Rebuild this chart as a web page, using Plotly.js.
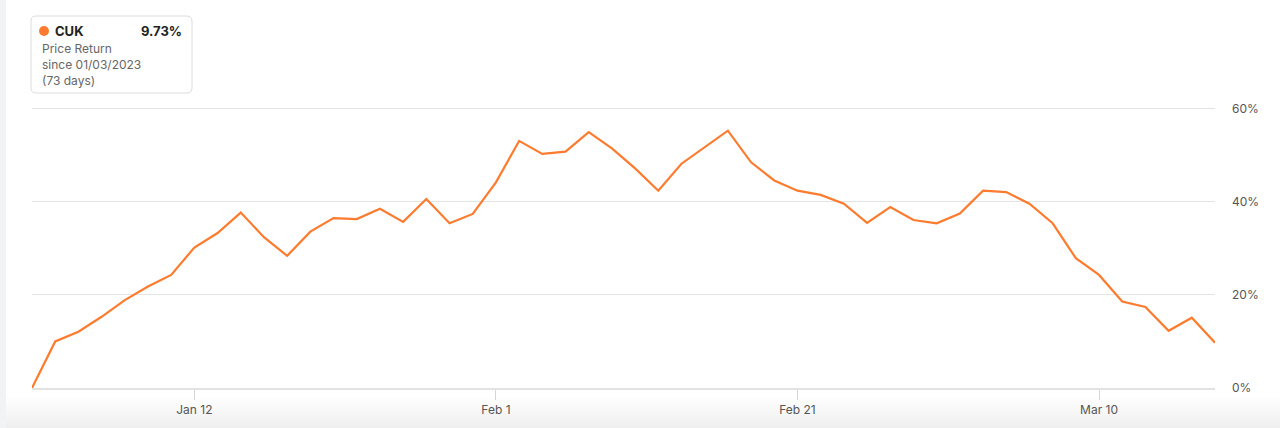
<!DOCTYPE html>
<html>
<head>
<meta charset="utf-8">
<script src="https://cdn.plot.ly/plotly-3.0.1.min.js"></script>
<style>
  html, body { margin:0; padding:0; width:1280px; height:428px; overflow:hidden; }
  body { background: linear-gradient(to bottom, #ffffff 0px, #ffffff 395px, #efefef 428px); position:relative; }
  #strip { position:absolute; left:0; top:0; width:6px; height:428px; background:#f2f3f7; }
  #chart { position:absolute; left:0; top:0; width:1280px; height:428px; }
</style>
</head>
<body>
<div id="strip"></div>
<div id="chart"></div>
<script>
// ---- data ----
const dates = [
  "2023-01-03","2023-01-04","2023-01-05","2023-01-06","2023-01-09","2023-01-10","2023-01-11","2023-01-12","2023-01-13",
  "2023-01-17","2023-01-18","2023-01-19","2023-01-20","2023-01-23","2023-01-24","2023-01-25","2023-01-26","2023-01-27",
  "2023-01-30","2023-01-31","2023-02-01","2023-02-02","2023-02-03","2023-02-06","2023-02-07","2023-02-08","2023-02-09",
  "2023-02-10","2023-02-13","2023-02-14","2023-02-15","2023-02-16","2023-02-17","2023-02-21","2023-02-22","2023-02-23",
  "2023-02-24","2023-02-27","2023-02-28","2023-03-01","2023-03-02","2023-03-03","2023-03-06","2023-03-07","2023-03-08",
  "2023-03-09","2023-03-10","2023-03-13","2023-03-14","2023-03-15","2023-03-16","2023-03-17"
];
const priceReturn = [
  0, 10.0, 12.1, 15.3, 18.9, 21.8, 24.3, 30.2, 33.3,
  37.7, 32.4, 28.4, 33.6, 36.5, 36.3, 38.5, 35.7, 40.6,
  35.4, 37.4, 44.2, 53.1, 50.3, 50.8, 55.0, 51.5, 47.2,
  42.4, 48.2, 51.7, 55.3, 48.5, 44.6, 42.4, 41.5, 39.6,
  35.5, 38.9, 36.1, 35.4, 37.5, 42.4, 42.1, 39.6, 35.4,
  27.9, 24.3, 18.6, 17.4, 12.3, 15.1, 9.73
];
const xTickVals = ["2023-01-12","2023-02-01","2023-02-21","2023-03-10"];
const xTickText = ["Jan 12","Feb 1","Feb 21","Mar 10"];
const yTickVals = [0, 20, 40, 60];
const yTickText = ["0%", "20%", "40%", "60%"];
const seriesName = "CUK";
const lastValueText = "9.73%";
const subtitle = "Price Return";
const sinceText = "since 01/03/2023";
const daysText = "(73 days)";

// ---- layout helpers (pixel -> paper) ----
const W = 1280, H = 428;
const M = { l: 32, r: 65, t: 106, b: 40 };
const PW = W - M.l - M.r, PH = H - M.t - M.b;
const px = x => (x - M.l) / PW;
const py = y => (H - M.b - y) / PH;

const orange = "#fd7b2e";
const font = "Inter, 'Liberation Sans', Arial, sans-serif";

// rounded legend box
const bx0 = 31, bx1 = 192, by0 = 16, by1 = 93, r = 5;
function roundRectPath(x0, y0, x1, y1, rr) {
  return `M ${px(x0+rr)},${py(y0)} L ${px(x1-rr)},${py(y0)} Q ${px(x1)},${py(y0)} ${px(x1)},${py(y0+rr)} ` +
         `L ${px(x1)},${py(y1-rr)} Q ${px(x1)},${py(y1)} ${px(x1-rr)},${py(y1)} ` +
         `L ${px(x0+rr)},${py(y1)} Q ${px(x0)},${py(y1)} ${px(x0)},${py(y1-rr)} ` +
         `L ${px(x0)},${py(y0+rr)} Q ${px(x0)},${py(y0)} ${px(x0+rr)},${py(y0)} Z`;
}

const trace = {
  x: dates,
  y: priceReturn,
  type: "scatter",
  mode: "lines",
  line: { color: orange, width: 2.2 },
  hoverinfo: "skip",
  name: seriesName
};

const layout = {
  width: W, height: H,
  margin: M,
  paper_bgcolor: "rgba(0,0,0,0)",
  plot_bgcolor: "rgba(0,0,0,0)",
  showlegend: false,
  font: { family: font, size: 12, color: "#555" },
  xaxis: {
    type: "category",
    range: [0, dates.length - 1],
    tickmode: "array",
    tickvals: xTickVals,
    ticktext: xTickText,
    ticks: "outside",
    ticklen: 10,
    tickcolor: "#d6d6d6",
    tickwidth: 1,
    showgrid: false,
    showline: true,
    linecolor: "#e2e2e2",
    linewidth: 2,
    zeroline: false,
    tickfont: { family: font, size: 12, color: "#555" },
    fixedrange: true
  },
  yaxis: {
    side: "right",
    range: [0, 60.6],
    tickmode: "array",
    tickvals: yTickVals,
    ticktext: yTickText,
    showgrid: true,
    gridcolor: "#e4e4e4",
    gridwidth: 1,
    zeroline: false,
    showline: false,
    ticks: "",
    ticklabelstandoff: 16,
    tickfont: { family: font, size: 12, color: "#555" },
    fixedrange: true
  },
  shapes: [
    { type: "path", xref: "paper", yref: "paper", path: roundRectPath(bx0, by0, bx1, by1, r),
      line: { color: "#dcdcdc", width: 1 }, fillcolor: "#ffffff", layer: "above" },
    { type: "circle", xref: "paper", yref: "paper",
      x0: px(39), x1: px(49), y0: py(26), y1: py(36),
      line: { width: 0 }, fillcolor: orange, layer: "above" }
  ],
  annotations: [
    { xref: "paper", yref: "paper", x: px(53), y: py(31), xanchor: "left", yanchor: "middle",
      text: "<b>" + seriesName + "</b>", showarrow: false,
      font: { family: font, size: 13, color: "#222" } },
    { xref: "paper", yref: "paper", x: px(184), y: py(31), xanchor: "right", yanchor: "middle",
      text: "<b>" + lastValueText + "</b>", showarrow: false,
      font: { family: font, size: 13, color: "#222" } },
    { xref: "paper", yref: "paper", x: px(40), y: py(48), xanchor: "left", yanchor: "middle",
      text: subtitle, showarrow: false,
      font: { family: font, size: 12, color: "#666" } },
    { xref: "paper", yref: "paper", x: px(40), y: py(72.5), xanchor: "left", yanchor: "middle",
      align: "left",
      text: sinceText + "<br>" + daysText, showarrow: false,
      font: { family: font, size: 12, color: "#666" } }
  ]
};

Plotly.newPlot("chart", [trace], layout, { displayModeBar: false, staticPlot: true });
</script>
</body>
</html>
